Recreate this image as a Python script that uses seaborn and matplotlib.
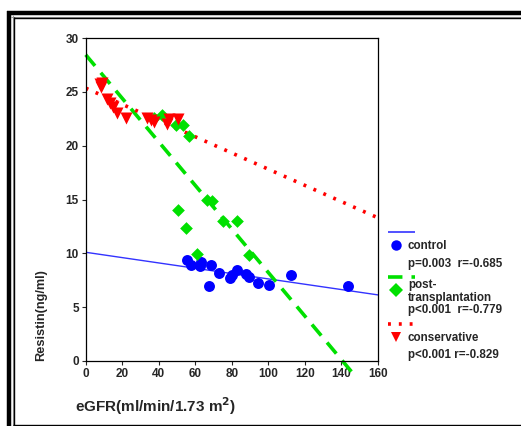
import matplotlib
matplotlib.use("Agg")
import matplotlib.pyplot as plt
import seaborn as sns
import pandas as pd
import numpy as np
from matplotlib.lines import Line2D

sns.set_style("white")
plt.rcParams['font.family'] = ['Liberation Sans', 'DejaVu Sans']
plt.rcParams['font.weight'] = 'bold'

# ---- data ----
control_x = [55.6, 57.4, 63.0, 62.5, 68.5, 67.4, 72.9, 78.9, 80.2, 82.6, 87.7, 89.5, 94.4, 100.4, 112.3, 143.6]
control_y = [9.4, 8.9, 9.2, 8.8, 8.9, 7.0, 8.15, 7.7, 8.0, 8.5, 8.1, 7.8, 7.2, 7.1, 8.0, 7.0]

post_x = [41.9, 37.4, 49.7, 53.0, 56.5, 50.7, 54.9, 66.2, 68.9, 74.9, 82.6, 60.7, 89.5]
post_y = [22.9, 22.6, 21.9, 21.9, 20.9, 14.0, 12.4, 15.0, 14.9, 13.0, 13.0, 9.9, 9.85]

cons_x = [7.8, 9.1, 8.5, 11.8, 13.3, 15.1, 16.9, 21.9, 33.3, 35.5, 37.4, 44.3, 45.7, 50.7]
cons_y = [25.7, 25.8, 25.5, 24.3, 24.0, 23.6, 23.0, 22.6, 22.6, 22.4, 22.2, 22.0, 22.5, 22.5]

# fitted lines: x-range and y at endpoints
control_fit_x = [0, 160]
control_fit_y = [10.1, 6.14]
post_fit_x = [0, 148.5]
post_fit_y = [28.45, -1.6]
cons_fit_x = [0, 160]
cons_fit_y = [25.35, 13.3]

x_ticks = [0, 20, 40, 60, 80, 100, 120, 140, 160]
y_ticks = [0, 5, 10, 15, 20, 25, 30]

legend_labels = [["control"], ["post-", "transplantation"], ["conservative"]]
legend_stats = ["p=0.003  r=-0.685", "p<0.001  r=-0.779", "p<0.001 r=-0.829"]

BLUE = "#0000ff"
GREEN = "#00e000"
RED = "#ff0000"
LINEBLUE = "#3333ff"

fig = plt.figure(figsize=(5.21, 4.26), dpi=100)
ax = fig.add_axes([0.1645, 0.1526, 0.561, 0.758])

df = pd.DataFrame({
    "x": control_x + post_x + cons_x,
    "y": control_y + post_y + cons_y,
    "g": ["control"] * len(control_x) + ["post"] * len(post_x) + ["cons"] * len(cons_x),
})

# lines
sns.lineplot(x=control_fit_x, y=control_fit_y, ax=ax, color=LINEBLUE, lw=1.0)
sns.lineplot(x=post_fit_x, y=post_fit_y, ax=ax, color=GREEN, lw=2.6)
sns.lineplot(x=cons_fit_x, y=cons_fit_y, ax=ax, color=RED, lw=2.6)
lines = ax.get_lines()
lines[1].set_dashes([4, 2.5])
lines[1].set_clip_on(False)
lines[2].set_dashes([0.8, 2.2])

sns.scatterplot(data=df[df.g == "control"], x="x", y="y", ax=ax, color=BLUE,
                marker="o", s=62, edgecolor=BLUE, linewidth=0, zorder=3)
sns.scatterplot(data=df[df.g == "post"], x="x", y="y", ax=ax, color=GREEN,
                marker="D", s=42, edgecolor=GREEN, linewidth=0, zorder=3)
sns.scatterplot(data=df[df.g == "cons"], x="x", y="y", ax=ax, color=RED,
                marker="v", s=75, edgecolor=RED, linewidth=0, zorder=3)

ax.set_xlim(0, 160)
ax.set_ylim(0, 30)
ax.set_xticks(x_ticks)
ax.set_yticks(y_ticks)
ax.tick_params(axis='both', direction='out', length=3, width=0.8, labelsize=8.5,
               left=True, bottom=True, pad=2)
for lab in ax.get_xticklabels() + ax.get_yticklabels():
    lab.set_fontweight('bold')
for sp in ax.spines.values():
    sp.set_visible(True)
    sp.set_color("black")
    sp.set_linewidth(0.9)

ax.set_xlabel("eGFR(ml/min/1.73 m$^\\mathbf{2}$)", fontsize=11, fontweight='bold')
ax.xaxis.set_label_coords(-0.037, -0.139)
ax.xaxis.label.set_horizontalalignment('left')
ax.xaxis.label.set_verticalalignment('center')
ax.set_ylabel("Resistin(ng/ml)", fontsize=9.2, fontweight='bold')
ax.yaxis.set_label_coords(-0.153, 0.0)
ax.yaxis.label.set_verticalalignment('center')
ax.yaxis.label.set_horizontalalignment('left')

# ---- manual legend (figure pixel coordinates) ----
W, H = 521, 426
def fx(px): return px / W
def fy(py): return 1 - py / H

leg = [
    (LINEBLUE, None, 1.2, "o", BLUE, 232, 245, legend_labels[0], [246], legend_stats[0], 264),
    (GREEN, [4, 2.5], 2.6, "D", GREEN, 277, 290, legend_labels[1], [285, 297.5], legend_stats[1], 310),
    (RED, [0.8, 2.2], 2.6, "v", RED, 324, 337, legend_labels[2], [338], legend_stats[2], 355),
]
for col, dashes, lw, mk, mcol, ly, my, labs, tys, stat, sy in leg:
    ln = Line2D([fx(388), fx(415)], [fy(ly), fy(ly)], color=col, lw=lw, transform=fig.transFigure,
                solid_capstyle='butt')
    if dashes:
        ln.set_dashes(dashes)
    fig.add_artist(ln)
    fig.add_artist(Line2D([fx(396)], [fy(my)], marker=mk, color=mcol, markersize=7.5,
                          markeredgewidth=0, linestyle='none', transform=fig.transFigure))
    for lab, ty in zip(labs, tys):
        fig.text(fx(408), fy(ty), lab, fontsize=8.4, fontweight='bold', va='center', ha='left')
    fig.text(fx(408), fy(sy), stat, fontsize=8.4, fontweight='bold', va='center', ha='left')

# ---- frame ----
def hline(y, x0, x1, lw, c):
    fig.add_artist(Line2D([fx(x0), fx(x1)], [fy(y), fy(y)], color=c, lw=lw, transform=fig.transFigure,
                          solid_capstyle='butt'))
def vline(x, y0, y1, lw, c):
    fig.add_artist(Line2D([fx(x), fx(x)], [fy(y0), fy(y1)], color=c, lw=lw, transform=fig.transFigure,
                          solid_capstyle='butt'))

hline(13, 7, 521, 3.2, "black")
hline(16.5, 11, 521, 0.8, "#999999")
hline(17.8, 13, 521, 1.0, "black")
vline(9, 11, 426, 3.2, "black")
vline(12.5, 15, 426, 0.8, "#999999")
vline(13.8, 17, 426, 1.0, "black")
hline(424.5, 13, 521, 1.0, "black")

fig.savefig("out.png", dpi=100)
